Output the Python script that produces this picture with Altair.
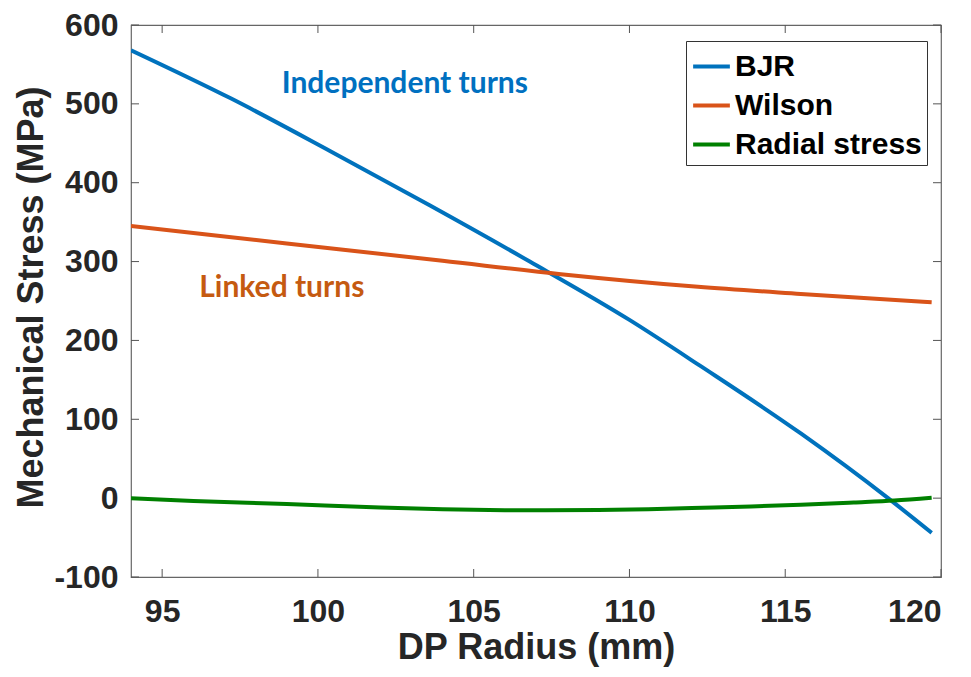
import altair as alt
import pandas as pd

# ---- data ----
bjr_r = [94.0, 97.2, 100.4, 103.6, 106.8, 110.0, 112.3, 115.5, 118.3, 119.7]
bjr_v = [568, 507, 440, 371, 300, 226, 167, 82, 0, -44]

wil_r = [94.0, 99.0, 104.0, 107.8, 112.2, 115.5, 119.7]
wil_v = [345, 323, 301, 284, 268, 259, 248.5]

rad_r = [94.0, 96.0, 99.0, 102.0, 104.0, 106.0, 107.3, 109.0, 110.6, 112.0, 113.9, 115.5, 117.2, 118.5, 119.7]
rad_v = [0, -3.5, -7.5, -12, -14, -15.3, -15.5, -15, -14, -12.5, -10.5, -8.5, -5.5, -3, 0.5]

series_names = ["BJR", "Wilson", "Radial stress"]
series_colors = ["#0072BD", "#D95319", "#008000"]

x_ticks = [95, 100, 105, 110, 115, 120]
y_ticks = [-100, 0, 100, 200, 300, 400, 500, 600]

ann_text = ["Independent turns", "Linked turns"]
ann_x = [102.79, 98.84]
ann_y = [525, 267]
ann_color = ["#0070C0", "#C55A11"]

# ---- tables ----
rows = []
for r, v in zip(bjr_r, bjr_v):
    rows.append({"r": r, "v": v, "s": "BJR"})
for r, v in zip(wil_r, wil_v):
    rows.append({"r": r, "v": v, "s": "Wilson"})
for r, v in zip(rad_r, rad_v):
    rows.append({"r": r, "v": v, "s": "Radial stress"})
df = pd.DataFrame(rows)

W, H = 810, 552
FONT = "Liberation Sans"
xs = alt.Scale(domain=[94, 120], nice=False)
ys = alt.Scale(domain=[-100, 600], nice=False)

lines = alt.Chart(df).mark_line(strokeWidth=4, interpolate="monotone", clip=True).encode(
    x=alt.X("r:Q", scale=xs,
            axis=alt.Axis(values=x_ticks, title="DP Radius (mm)", labelExpr="datum.value")),
    y=alt.Y("v:Q", scale=ys,
            axis=alt.Axis(values=y_ticks, title="Mechanical Stress (MPa)", labelExpr="datum.value",
                          titleY=272)),
    color=alt.Color("s:N",
                    scale=alt.Scale(domain=series_names, range=series_colors),
                    legend=alt.Legend(title=None, orient="none", legendX=555, legendY=16,
                                      symbolType="stroke", symbolStrokeWidth=4,
                                      symbolSize=1350, labelFontSize=30, labelLimit=400,
                                      labelFont=FONT, labelFontWeight="bold",
                                      labelColor="#000000", rowPadding=3,
                                      labelOffset=3, padding=5,
                                      strokeColor="#333333", fillColor="white")),
    detail="s:N",
)

tx = pd.DataFrame({"t": x_ticks})
ty = pd.DataFrame({"t": y_ticks})
tick_col = "#555555"
xb = alt.Chart(tx).mark_rule(color=tick_col, strokeWidth=1).encode(
    x=alt.X("t:Q", scale=xs), y=alt.value(H), y2=alt.value(H - 8))
xt = alt.Chart(tx).mark_rule(color=tick_col, strokeWidth=1).encode(
    x=alt.X("t:Q", scale=xs), y=alt.value(0), y2=alt.value(8))
yl = alt.Chart(ty).mark_rule(color=tick_col, strokeWidth=1).encode(
    y=alt.Y("t:Q", scale=ys), x=alt.value(0), x2=alt.value(8))
yr = alt.Chart(ty).mark_rule(color=tick_col, strokeWidth=1).encode(
    y=alt.Y("t:Q", scale=ys), x=alt.value(W), x2=alt.value(W - 8))

ann = pd.DataFrame({"t": ann_text, "x": ann_x, "y": ann_y, "c": ann_color})
texts = alt.Chart(ann).mark_text(font="Lato", fontWeight="bold", fontSize=30,
                                 align="center", baseline="middle").encode(
    x=alt.X("x:Q", scale=xs), y=alt.Y("y:Q", scale=ys),
    text="t:N", color=alt.Color("c:N", scale=None))

chart = alt.layer(xb, xt, yl, yr, lines, texts).properties(
    width=W, height=H,
    autosize=alt.AutoSizeParams(type="none"),
    padding={"left": 123, "top": 17, "right": 20, "bottom": 92},
    background="white",
).configure_view(
    stroke="#666666", strokeWidth=1.2
).configure_axis(
    domain=False, ticks=False, grid=False,
    labelFont=FONT, labelFontWeight="bold", labelFontSize=32, labelColor="#262626",
    titleFont=FONT, titleFontWeight="bold", titleFontSize=36, titleColor="#262626",
).configure_axisX(
    labelPadding=19, titlePadding=3
).configure_axisY(
    labelPadding=13, titlePadding=3
)

chart.save("out.html", embed_options={"renderer": "svg", "actions": False})
